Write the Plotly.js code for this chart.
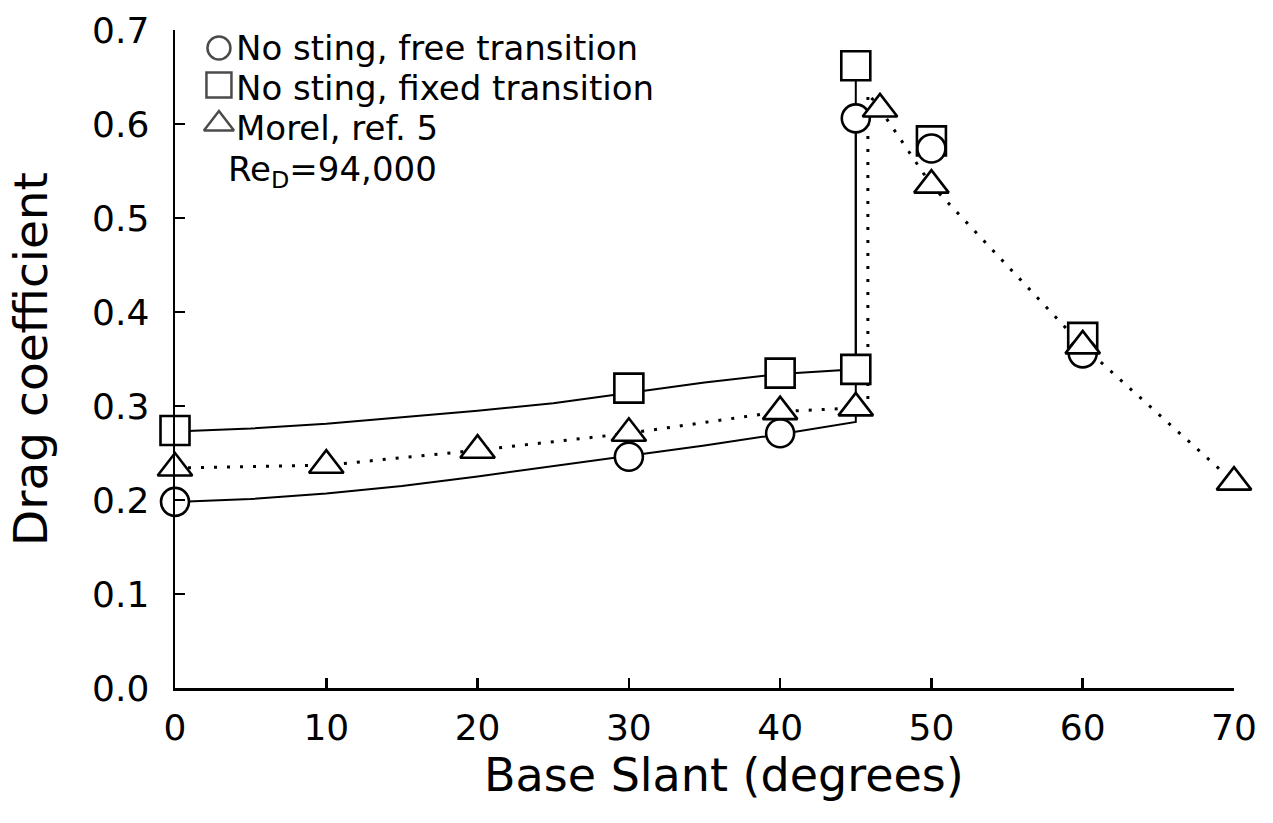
<!DOCTYPE html>
<html>
<head>
<meta charset="utf-8">
<script src="https://cdn.plot.ly/plotly-3.0.1.min.js"></script>
<style>html,body{margin:0;padding:0;background:#fff;}#chart{width:1273px;height:823px;}</style>
</head>
<body>
<div id="chart"></div>
<script>
// Measured points
const freeX = [0, 30, 40, 45, 50, 60];
const freeY = [0.198, 0.246, 0.271, 0.606, 0.574, 0.356];
const fixedX = [0, 30, 40, 45, 45, 50, 60];
const fixedY = [0.274, 0.319, 0.335, 0.339, 0.662, 0.582, 0.373];
const morelX = [0, 10, 20, 30, 40, 45, 46.6, 50, 60, 70];
const morelY = [0.234, 0.237, 0.253, 0.271, 0.294, 0.298, 0.616, 0.535, 0.364, 0.219];

// Faired curves as drawn on the figure
const fixedCurveX = [0, 5, 10, 15, 20, 25, 30, 35, 40, 45, 45];
const fixedCurveY = [0.273, 0.276, 0.281, 0.288, 0.295, 0.303, 0.314, 0.325, 0.334, 0.339, 0.662];
const freeCurveX = [0, 5, 10, 15, 20, 25, 30, 35, 40, 45, 45];
const freeCurveY = [0.198, 0.201, 0.207, 0.215, 0.225, 0.236, 0.247, 0.258, 0.270, 0.283, 0.606];
const morelCurveX = [0, 10, 20, 30, 40, 45, 45.8, 45.8, 46.6, 50, 60, 70];
const morelCurveY = [0.234, 0.237, 0.253, 0.271, 0.294, 0.298, 0.302, 0.633, 0.616, 0.535, 0.364, 0.219];

// Axis ticks
const xTicks = [0, 10, 20, 30, 40, 50, 60, 70];
const yTicks = [0.0, 0.1, 0.2, 0.3, 0.4, 0.5, 0.6, 0.7];

// Texts
const xTitle = 'Base Slant (degrees)';
const yTitle = 'Drag coefficient';
const legendLabels = ['No sting, free transition', 'No sting, fixed transition', 'Morel, ref. 5'];
const legendSymbols = ['circle', 'square', 'triangle-up'];
const reynoldsLabel = 'Re<sub>D</sub>=94,000';

const FONT = 'DejaVu Sans, sans-serif';
const mk = (sym, size) => ({symbol: sym, size: size, color: '#ffffff', line: {color: '#000', width: 2.6}});

const traces = [
  {x: fixedCurveX, y: fixedCurveY, mode: 'lines', line: {color: '#000', width: 2}, showlegend: false, hoverinfo: 'skip', cliponaxis: false},
  {x: freeCurveX, y: freeCurveY, mode: 'lines', line: {color: '#000', width: 2}, showlegend: false, hoverinfo: 'skip', cliponaxis: false},
  {x: morelCurveX, y: morelCurveY, mode: 'lines', line: {color: '#000', width: 3, dash: '3px,10px'}, showlegend: false, hoverinfo: 'skip', cliponaxis: false},
  {x: fixedX, y: fixedY, mode: 'markers', marker: mk('square', 29), name: legendLabels[1], showlegend: false, cliponaxis: false},
  {x: freeX, y: freeY, mode: 'markers', marker: mk('circle', 28), name: legendLabels[0], showlegend: false, cliponaxis: false},
  {x: morelX, y: morelY, mode: 'markers', marker: mk('triangle-up', 30), name: legendLabels[2], showlegend: false, cliponaxis: false},
  // legend key markers on a hidden overlay axis (fraction of plot area)
  {x: [0.0415, 0.0415, 0.0415], y: [0.9726, 0.9164, 0.857], xaxis: 'x2', yaxis: 'y2', mode: 'markers',
   marker: {symbol: legendSymbols, size: [23, 25, 26], color: '#fff', line: {color: '#000', width: 2.5}},
   showlegend: false, hoverinfo: 'skip', cliponaxis: false}
];

const annotations = legendLabels.map((t, i) => ({
  xref: 'paper', yref: 'paper', x: (234 - 175) / 1059, y: (688 - [48, 88, 128][i]) / 658,
  xanchor: 'left', yanchor: 'middle', text: t, showarrow: false,
  font: {family: FONT, size: 34, color: '#000'}
}));
annotations.push({
  xref: 'paper', yref: 'paper', x: (226 - 175) / 1059, y: (688 - 172) / 658,
  xanchor: 'left', yanchor: 'middle', text: reynoldsLabel, showarrow: false,
  font: {family: FONT, size: 34, color: '#000'}
});
annotations.push({
  xref: 'paper', yref: 'paper', x: (724 - 175) / 1059, y: (688 - 775) / 658,
  xanchor: 'center', yanchor: 'middle', text: xTitle, showarrow: false,
  font: {family: FONT, size: 46, color: '#000'}
});

const layout = {
  width: 1273, height: 823,
  margin: {l: 175, r: 39, t: 30, b: 135},
  paper_bgcolor: '#fff', plot_bgcolor: '#fff',
  font: {family: FONT, color: '#000'},
  showlegend: false,
  xaxis: {
    range: [0, 70], tickvals: xTicks, ticktext: xTicks.map(String),
    showline: true, linewidth: 2.5, linecolor: '#000', mirror: false,
    ticks: 'inside', ticklen: 10, tickwidth: 2.5, tickcolor: '#000',
    showgrid: false, zeroline: false, ticklabelstandoff: 6,
    tickfont: {family: FONT, size: 36, color: '#000'}
  },
  yaxis: {
    range: [0, 0.7], tickvals: yTicks, ticktext: yTicks.map(v => v.toFixed(1)),
    showline: true, linewidth: 2.5, linecolor: '#000', mirror: false,
    ticks: 'inside', ticklen: 10, tickwidth: 2.5, tickcolor: '#000',
    showgrid: false, zeroline: false, ticklabelstandoff: 16,
    tickfont: {family: FONT, size: 36, color: '#000'},
    title: {text: yTitle, font: {family: FONT, size: 47, color: '#000'}, standoff: 30}
  },
  xaxis2: {overlaying: 'x', range: [0, 1], visible: false, fixedrange: true},
  yaxis2: {overlaying: 'y', range: [0, 1], visible: false, fixedrange: true},
  annotations: annotations
};

Plotly.newPlot('chart', traces, layout, {staticPlot: true, displayModeBar: false});
</script>
</body>
</html>
